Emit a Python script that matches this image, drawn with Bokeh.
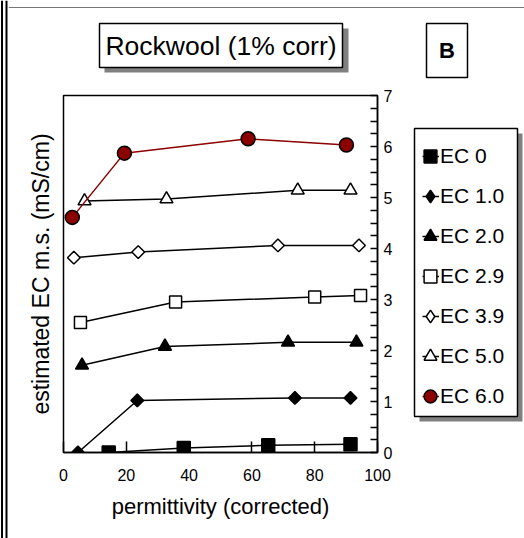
import math

from bokeh.plotting import figure
from bokeh.layouts import row, column
from bokeh.models import (LinearAxis, FixedTicker, Range1d, Legend, LegendItem,
                          Label, BoxAnnotation)
from bokeh.embed import file_html
from bokeh.resources import INLINE

FONT = "Liberation Sans"

# corrected permittivity and estimated EC (mS/cm) for each solution strength
perm_ec0 = [14.4, 38.3, 65.2, 91.4]
ec_ec0 = [0.0, 0.09, 0.14, 0.16]
perm_ec1 = [4.6, 23.5, 73.7, 91.4]
ec_ec1 = [0.0, 1.02, 1.07, 1.07]
perm_ec2 = [5.9, 32.3, 71.5, 93.3]
ec_ec2 = [1.71, 2.08, 2.16, 2.16]
perm_ec29 = [5.4, 35.7, 80.0, 94.6]
ec_ec29 = [2.55, 2.95, 3.05, 3.08]
perm_ec39 = [3.3, 23.8, 68.3, 94.1]
ec_ec39 = [3.82, 3.93, 4.06, 4.06]
perm_ec5 = [6.7, 32.8, 74.6, 91.4]
ec_ec5 = [4.93, 4.97, 5.14, 5.14]
perm_ec6 = [2.8, 19.4, 58.8, 90.1]
ec_ec6 = [4.61, 5.87, 6.15, 6.03]

series_labels = ["EC 0", "EC 1.0", "EC 2.0", "EC 2.9", "EC 3.9", "EC 5.0", "EC 6.0"]
x_ticks = [0, 20, 40, 60, 80, 100]
y_ticks = [0, 1, 2, 3, 4, 5, 6, 7]
y_minor_ticks = [q / 4 for q in range(29) if q % 4]

DARK_RED = "#8B0000"

series_styles = [
    # marker, size, fill, angle, line colour, key marker
    ("square", 13, "black", 0.0, "black", "square"),
    ("square", 9, "black", math.pi / 4, "black", "diamond"),
    ("triangle", 13, "black", 0.0, "black", "triangle"),
    ("square", 12, "white", 0.0, "black", "square"),
    ("square", 9, "white", math.pi / 4, "black", "diamond"),
    ("triangle", 13, "white", 0.0, "black", "triangle"),
    ("circle", 14, DARK_RED, 0.0, DARK_RED, "circle"),
]
series_data = [
    (perm_ec0, ec_ec0), (perm_ec1, ec_ec1), (perm_ec2, ec_ec2),
    (perm_ec29, ec_ec29), (perm_ec39, ec_ec39), (perm_ec5, ec_ec5),
    (perm_ec6, ec_ec6),
]


def blank_panel(width, height, x_range=None, y_range=None):
    """A figure whose frame fills the canvas, used for boxes and text."""
    f = figure(width=width, height=height,
               x_range=x_range or Range1d(0, 1), y_range=y_range or Range1d(0, 1),
               x_axis_type=None, y_axis_type=None, output_backend="svg",
               toolbar_location=None, min_border=0)
    f.grid.visible = False
    f.outline_line_color = None
    f.background_fill_color = "white"
    f.border_fill_color = "white"
    return f


def canvas_box(left, right, top, bottom, color):
    return BoxAnnotation(left=left, right=right, top=top, bottom=bottom,
                         left_units="canvas", right_units="canvas",
                         top_units="canvas", bottom_units="canvas",
                         fill_color=color, fill_alpha=1.0, line_color=None,
                         level="underlay")


def framed_box(left, right, top, bottom, lw=1.5):
    return BoxAnnotation(left=left, right=right, top=top, bottom=bottom,
                         left_units="canvas", right_units="canvas",
                         top_units="canvas", bottom_units="canvas",
                         fill_color="white", fill_alpha=1.0, line_color="black",
                         line_width=lw, line_alpha=1.0, level="underlay")


# ---- main chart -------------------------------------------------------------
p = figure(width=397, height=453, x_range=Range1d(0, 100), y_range=Range1d(0, 7),
           y_axis_location="right", output_backend="svg", toolbar_location=None,
           min_border_left=55, min_border_right=28, min_border_top=10,
           min_border_bottom=86)
p.grid.visible = False
p.background_fill_color = "white"
p.border_fill_color = "white"
p.outline_line_color = "black"
p.outline_line_width = 1.5

xa = p.xaxis[0]
xa.ticker = FixedTicker(ticks=x_ticks)
xa.axis_line_color = "black"
xa.axis_line_width = 1.5
xa.major_tick_in = 11
xa.major_tick_out = 0
xa.major_tick_line_width = 1.5
xa.minor_tick_line_color = None
xa.major_label_standoff = 16
xa.major_label_text_font = FONT
xa.major_label_text_font_size = "16px"
xa.major_label_text_color = "black"
xa.axis_label = "permittivity (corrected)"
xa.axis_label_text_font = FONT
xa.axis_label_text_font_size = "22px"
xa.axis_label_text_font_style = "normal"
xa.axis_label_text_color = "black"
xa.axis_label_standoff = 10

ya = p.yaxis[0]
ya.ticker = FixedTicker(ticks=y_ticks, minor_ticks=y_minor_ticks)
ya.axis_line_color = "black"
ya.axis_line_width = 1.5
ya.major_tick_in = 7
ya.major_tick_out = 0
ya.minor_tick_in = 7
ya.minor_tick_out = 0
ya.major_tick_line_width = 1.5
ya.minor_tick_line_width = 1.5
ya.major_label_standoff = 6
ya.major_label_text_font = FONT
ya.major_label_text_font_size = "16px"
ya.major_label_text_color = "black"

la = LinearAxis(ticker=FixedTicker(ticks=[]), axis_line_color=None,
                major_tick_line_color=None, minor_tick_line_color=None,
                major_tick_out=0, minor_tick_out=0,
                axis_label="estimated EC m.s. (mS/cm)",
                axis_label_text_font=FONT, axis_label_text_font_size="23px",
                axis_label_text_font_style="normal", axis_label_text_color="black",
                axis_label_standoff=10)
p.add_layout(la, "left")

for (xs, ys), (marker, size, fill, angle, lc, _) in zip(series_data, series_styles):
    p.line(xs, ys, line_color=lc, line_width=1.5)
    p.scatter(xs, ys, marker=marker, size=size, angle=angle,
              fill_color=fill, line_color="black", line_width=1.5)

# ---- legend panel -----------------------------------------------------------
# the key's renderers carry the same series but sit outside this panel's
# visible y range, so only their legend swatches are drawn
lg = blank_panel(119, 453, x_range=Range1d(0, 100), y_range=Range1d(100, 101))
lg.add_layout(canvas_box(14, 117, 48, 336, "#808080"))
lg.add_layout(framed_box(9, 112, 43, 331))

line_items, marker_items, text_items = [], [], []
for label, (xs, ys), (marker, size, fill, angle, lc, key_marker) in zip(
        series_labels, series_data, series_styles):
    lr = lg.line(xs, ys, line_color=lc, line_width=1.5)
    sr = lg.scatter(xs, ys, marker=key_marker, size=size,
                    fill_color=fill, line_color="black", line_width=1.5)
    tr = lg.line(xs, ys, line_alpha=0.0)
    line_items.append(LegendItem(label=" ", renderers=[lr]))
    marker_items.append(LegendItem(label=" ", renderers=[sr]))
    text_items.append(LegendItem(label=label, renderers=[tr]))

common = dict(orientation="vertical", padding=0, margin=0,
              label_text_font=FONT, label_text_font_size="21px",
              label_text_color="black", border_line_color=None,
              background_fill_alpha=0.0)

# short line stroke behind each key marker
lg.add_layout(Legend(items=line_items, location=(16.5, 44), spacing=16,
                     glyph_width=17, glyph_height=24, label_height=24,
                     label_standoff=0, label_width=1, **common))
# key markers
lg.add_layout(Legend(items=marker_items, location=(9, 40), spacing=8,
                     glyph_width=32, glyph_height=32, label_height=24,
                     label_standoff=0, label_width=1, **common))
# series names
lg.add_layout(Legend(items=text_items, location=(34, 44), spacing=16,
                     glyph_width=1, glyph_height=24, label_height=24,
                     label_standoff=0, **common))

# ---- heading strip ----------------------------------------------------------
top = blank_panel(516, 85)
top.add_layout(canvas_box(0, 516, 6.5, 7.5, "#777777"))
top.add_layout(canvas_box(96, 340, 28, 72, "#808080"))
top.add_layout(framed_box(91, 334, 23, 67))
top.add_layout(Label(x=212.5, y=40, x_units="screen", y_units="screen",
                     text="Rockwool (1% corr)", text_font=FONT, text_font_size="26.5px",
                     text_align="center", text_baseline="middle", text_color="black"))
top.add_layout(framed_box(418, 459, 23, 77))
top.add_layout(Label(x=438.5, y=35, x_units="screen", y_units="screen",
                     text="B", text_font=FONT, text_font_size="22px",
                     text_font_style="bold", text_align="center",
                     text_baseline="middle", text_color="black"))

# ---- double rule down the left edge -----------------------------------------
edge = blank_panel(8, 538)
edge.add_layout(canvas_box(0.5, 2.5, 0, 538, "black"))
edge.add_layout(canvas_box(5, 7, 0, 538, "black"))

page = row(edge, column(top, row(p, lg)))

open("out.html", "w").write(file_html(page, INLINE))
